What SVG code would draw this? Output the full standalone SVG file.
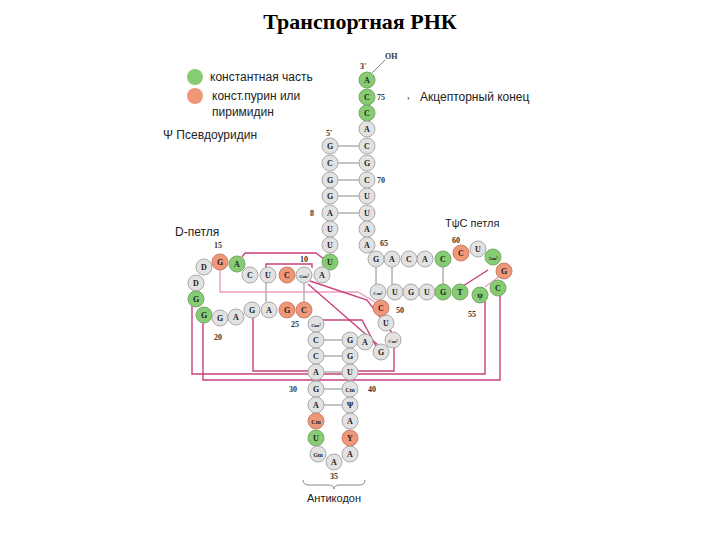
<svg xmlns="http://www.w3.org/2000/svg" width="720" height="540" viewBox="0 0 720 540">
<style>
.n circle{fill:#e2e2e2;stroke:#aaa;stroke-width:1}
.g circle{fill:#86cc72;stroke:#7aa86a}
.o circle{fill:#f0977a;stroke:#c9806a}
.n text{font:bold 8px "Liberation Serif",serif;text-anchor:middle;fill:#222}
.lb{font:bold 8px "Liberation Serif",serif;fill:#333}
.t{font:12px "Liberation Sans",sans-serif;fill:#222}
.bp{stroke:#888;stroke-width:1;fill:none}
.pk{stroke:#c8427e;stroke-width:1.4;fill:none}
.pl{stroke:#e9a0bd;stroke-width:1.4;fill:none}
</style>
<rect width="720" height="540" fill="#fff"/>
<text x="360" y="29" text-anchor="middle" style="font:bold 22px 'Liberation Serif',serif">Транспортная РНК</text>
<g id="legend">
<circle cx="195" cy="77" r="8" fill="#86cc72"/><text class="t" x="210" y="81">константная часть</text>
<circle cx="195" cy="96" r="8" fill="#f0977a"/><text class="t" x="212" y="100">конст.пурин или</text>
<text class="t" x="212" y="116">пиримидин</text>
<text class="t" x="163" y="139">Ψ  Псевдоуридин</text>
</g>
<g id="labels">
<text class="t" x="420" y="101">Акцепторный конец</text>
<text class="lb" x="407" y="100">›</text>
<text class="t" x="175" y="236">D-петля</text>
<text class="t" x="445" y="227" style="font-size:11px">TψC  петля</text>
<text class="lb" x="360" y="69">3'</text><text class="lb" x="385" y="59">OH</text>
<text class="lb" x="377" y="100">75</text><text class="lb" x="326" y="136">5'</text>
<text class="lb" x="377" y="183">70</text><text class="lb" x="310" y="216">8</text>
<text class="lb" x="380" y="246">65</text><text class="lb" x="300" y="262">10</text>
<text class="lb" x="214" y="248">15</text><text class="lb" x="214" y="340">20</text>
<text class="lb" x="291" y="327">25</text><text class="lb" x="289" y="392">30</text>
<text class="lb" x="330" y="479">35</text><text class="lb" x="368" y="392">40</text>
<text class="lb" x="396" y="313">50</text><text class="lb" x="468" y="317">55</text>
<text class="lb" x="452" y="243">60</text>
<text class="t" x="334" y="502" text-anchor="middle" style="font-size:11px">Антикодон</text>
<path class="bp" d="M303 480 q0 5 6 5 h19 q6 0 6 4 q0-4 6-4 h19 q6 0 6-5"/>
</g>
<g id="connectors">
<path class="bp" d="M372 73 L385 60"/>
<path class="bp" d="M338 146H359M338 163H359M338 180H359M338 196H359M338 213H359"/>
<path class="bp" d="M376 267V284M392 267V284M443 267V284M266 283V302M304 283V302"/>
<path class="bp" d="M324 340H342M324 356H342M324 372H342M324 389H342M324 405H342"/>
<path class="pk" d="M242 257 L245 253 H316 L324 259"/>
<path class="pk" d="M266 268 V264 H312 V268"/>
<path class="pl" d="M220 270 V292 H358 L375 302"/>
<path class="pk" d="M308 284 L378 345"/>
<path class="pk" d="M310 281 L367 300 L393 334"/>
<path class="pk" d="M320 320 H362 L376 346"/>
<path class="pk" d="M488 270 L463 286"/>
<path class="pl" d="M500 276 L485 287"/>
<path class="pk" d="M192 306 V374 H485 V300"/>
<path class="pk" d="M203 322 V380 H500 V296"/>
<path class="pk" d="M253 318 V371 H308"/>
<path class="pk" d="M394 348 V371 H358"/>
</g>
<g id="acceptor">
<g id="a76" class="n g"><circle cx="367" cy="80" r="8"/><text x="367" y="83">A</text></g>
<g id="a75" class="n g"><circle cx="367" cy="97" r="8"/><text x="367" y="100">C</text></g>
<g id="a74" class="n g"><circle cx="367" cy="113" r="8"/><text x="367" y="116">C</text></g>
<g id="a73" class="n"><circle cx="367" cy="129" r="8"/><text x="367" y="132">A</text></g>
<g id="a72" class="n"><circle cx="367" cy="146" r="8"/><text x="367" y="149">C</text></g>
<g id="a71" class="n"><circle cx="367" cy="163" r="8"/><text x="367" y="166">G</text></g>
<g id="a70" class="n"><circle cx="367" cy="180" r="8"/><text x="367" y="183">C</text></g>
<g id="a69" class="n"><circle cx="367" cy="196" r="8"/><text x="367" y="199">U</text></g>
<g id="a68" class="n"><circle cx="367" cy="213" r="8"/><text x="367" y="216">U</text></g>
<g id="a67" class="n"><circle cx="367" cy="229" r="8"/><text x="367" y="232">A</text></g>
<g id="a66" class="n"><circle cx="367" cy="245" r="8"/><text x="367" y="248">A</text></g>
<g id="a1" class="n"><circle cx="330" cy="146" r="8"/><text x="330" y="149">G</text></g>
<g id="a2" class="n"><circle cx="330" cy="163" r="8"/><text x="330" y="166">C</text></g>
<g id="a3" class="n"><circle cx="330" cy="180" r="8"/><text x="330" y="183">G</text></g>
<g id="a4" class="n"><circle cx="330" cy="196" r="8"/><text x="330" y="199">G</text></g>
<g id="a5" class="n"><circle cx="330" cy="213" r="8"/><text x="330" y="216">A</text></g>
<g id="a6" class="n"><circle cx="330" cy="229" r="8"/><text x="330" y="232">U</text></g>
<g id="a7" class="n"><circle cx="330" cy="245" r="8"/><text x="330" y="248">U</text></g>
<g id="a8" class="n g"><circle cx="330" cy="262" r="8"/><text x="330" y="265">U</text></g>
</g>
<g id="darm">
<g id="d9" class="n"><circle cx="322" cy="275" r="8"/><text x="322" y="278">A</text></g>
<g id="d10" class="n"><circle cx="304" cy="275" r="8"/><text x="304" y="278" style="font-size:5px">Gm²</text></g>
<g id="d11" class="n o"><circle cx="287" cy="275" r="8"/><text x="287" y="278">C</text></g>
<g id="d12" class="n"><circle cx="268" cy="275" r="8"/><text x="268" y="278">U</text></g>
<g id="d13" class="n"><circle cx="250" cy="275" r="8"/><text x="250" y="278">C</text></g>
<g id="d14" class="n g"><circle cx="237" cy="264" r="8"/><text x="237" y="267">A</text></g>
<g id="d15" class="n o"><circle cx="220" cy="262" r="8"/><text x="220" y="265">G</text></g>
<g id="d16" class="n"><circle cx="204" cy="267" r="8"/><text x="204" y="270">D</text></g>
<g id="d17" class="n"><circle cx="196" cy="283" r="8"/><text x="196" y="286">D</text></g>
<g id="d18" class="n g"><circle cx="196" cy="299" r="8"/><text x="196" y="302">G</text></g>
<g id="d19" class="n g"><circle cx="204" cy="315" r="8"/><text x="204" y="318">G</text></g>
<g id="d20" class="n"><circle cx="220" cy="318" r="8"/><text x="220" y="321">G</text></g>
<g id="d21" class="n"><circle cx="236" cy="317" r="8"/><text x="236" y="320">A</text></g>
<g id="d22" class="n"><circle cx="252" cy="310" r="8"/><text x="252" y="313">G</text></g>
<g id="d23" class="n"><circle cx="269" cy="310" r="8"/><text x="269" y="313">A</text></g>
<g id="d24" class="n o"><circle cx="287" cy="310" r="8"/><text x="287" y="313">G</text></g>
<g id="d25" class="n o"><circle cx="304" cy="310" r="8"/><text x="304" y="313">C</text></g>
</g>
<g id="anticodon">
<g id="c26" class="n"><circle cx="316" cy="324" r="8"/><text x="316" y="327" style="font-size:5px">Gm²</text></g>
<g id="c27" class="n"><circle cx="316" cy="340" r="8"/><text x="316" y="343">C</text></g>
<g id="c28" class="n"><circle cx="316" cy="356" r="8"/><text x="316" y="359">C</text></g>
<g id="c29" class="n"><circle cx="316" cy="372" r="8"/><text x="316" y="375">A</text></g>
<g id="c30" class="n"><circle cx="316" cy="389" r="8"/><text x="316" y="392">G</text></g>
<g id="c31" class="n"><circle cx="316" cy="405" r="8"/><text x="316" y="408">A</text></g>
<g id="c32" class="n o"><circle cx="316" cy="421" r="8"/><text x="316" y="424" style="font-size:6px">Cm</text></g>
<g id="c33" class="n g"><circle cx="316" cy="438" r="8"/><text x="316" y="441">U</text></g>
<g id="c34" class="n"><circle cx="318" cy="454" r="8"/><text x="318" y="457" style="font-size:6px">Gm</text></g>
<g id="c35" class="n"><circle cx="334" cy="462" r="8"/><text x="334" y="465">A</text></g>
<g id="c36" class="n"><circle cx="350" cy="454" r="8"/><text x="350" y="457">A</text></g>
<g id="c37" class="n o"><circle cx="350" cy="438" r="8"/><text x="350" y="441">Y</text></g>
<g id="c38" class="n"><circle cx="350" cy="421" r="8"/><text x="350" y="424">A</text></g>
<g id="c39" class="n"><circle cx="350" cy="405" r="8"/><text x="350" y="408">Ψ</text></g>
<g id="c40" class="n"><circle cx="350" cy="389" r="8"/><text x="350" y="392" style="font-size:6px">Cm</text></g>
<g id="c41" class="n"><circle cx="350" cy="372" r="8"/><text x="350" y="375">U</text></g>
<g id="c42" class="n"><circle cx="350" cy="356" r="8"/><text x="350" y="359">G</text></g>
<g id="c43" class="n"><circle cx="350" cy="340" r="8"/><text x="350" y="343">G</text></g>
<g id="c44" class="n"><circle cx="365" cy="342" r="8"/><text x="365" y="345">A</text></g>
<g id="c45" class="n"><circle cx="381" cy="352" r="8"/><text x="381" y="355">G</text></g>
<g id="c46" class="n"><circle cx="393" cy="340" r="8"/><text x="393" y="343" style="font-size:5px">Cm²</text></g>
<g id="c47" class="n"><circle cx="386" cy="323" r="8"/><text x="386" y="326">U</text></g>
<g id="c48" class="n o"><circle cx="381" cy="308" r="8"/><text x="381" y="311">C</text></g>
</g>
<g id="tarm">
<g id="t49" class="n"><circle cx="378" cy="292" r="8"/><text x="378" y="295" style="font-size:5px">Cm⁵</text></g>
<g id="t50" class="n"><circle cx="395" cy="292" r="8"/><text x="395" y="295">U</text></g>
<g id="t51" class="n"><circle cx="411" cy="292" r="8"/><text x="411" y="295">G</text></g>
<g id="t52" class="n"><circle cx="427" cy="292" r="8"/><text x="427" y="295">U</text></g>
<g id="t53" class="n g"><circle cx="443" cy="292" r="8"/><text x="443" y="295">G</text></g>
<g id="t54" class="n g"><circle cx="460" cy="292" r="8"/><text x="460" y="295">T</text></g>
<g id="t55" class="n g"><circle cx="480" cy="295" r="8"/><text x="480" y="298">ψ</text></g>
<g id="t56" class="n g"><circle cx="498" cy="288" r="8"/><text x="498" y="291">C</text></g>
<g id="t57" class="n o"><circle cx="504" cy="271" r="8"/><text x="504" y="274">G</text></g>
<g id="t58" class="n g"><circle cx="493" cy="257" r="8"/><text x="493" y="260" style="font-size:5px">Am¹</text></g>
<g id="t59" class="n"><circle cx="478" cy="249" r="8"/><text x="478" y="252">U</text></g>
<g id="t60" class="n o"><circle cx="461" cy="253" r="8"/><text x="461" y="256">C</text></g>
<g id="t61" class="n g"><circle cx="443" cy="259" r="8"/><text x="443" y="262">C</text></g>
<g id="t62" class="n"><circle cx="425" cy="259" r="8"/><text x="425" y="262">A</text></g>
<g id="t63" class="n"><circle cx="409" cy="259" r="8"/><text x="409" y="262">C</text></g>
<g id="t64" class="n"><circle cx="392" cy="259" r="8"/><text x="392" y="262">A</text></g>
<g id="t65" class="n"><circle cx="376" cy="259" r="8"/><text x="376" y="262">G</text></g>
</g>
</svg>
